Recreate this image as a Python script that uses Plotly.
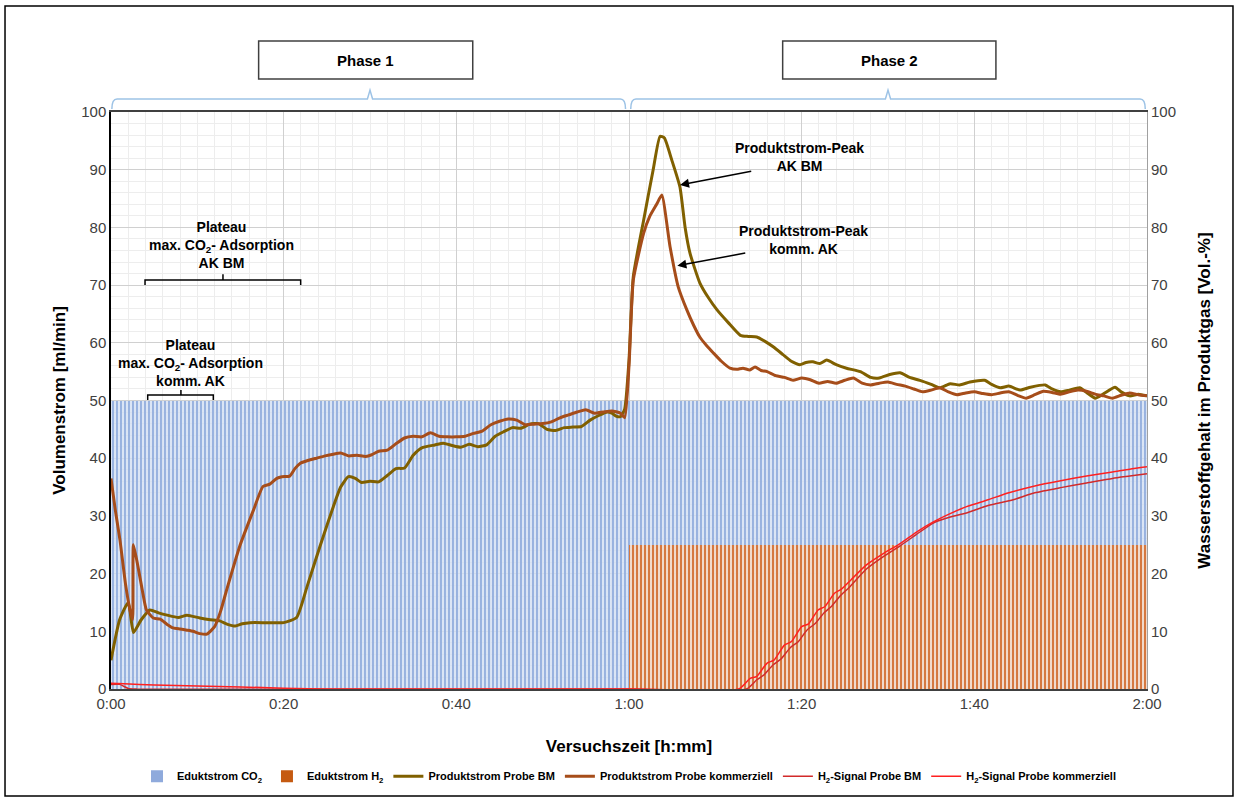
import plotly.graph_objects as go

# ---------------- data ----------------
x_tickvals = [0, 20, 40, 60, 80, 100, 120]
x_ticktext = ["0:00", "0:20", "0:40", "1:00", "1:20", "1:40", "2:00"]

# inlet flows (bars per phase)
edukt_t = [30, 90]
edukt_width = [60, 60]
edukt_co2 = [50, 50]
edukt_h2 = [0, 25]

# product stream sample BM (olive)
bm_t = [0, 1.0, 2.0, 2.6, 3.5, 4.5, 5.5, 6.5, 7.8, 8.8, 10.3, 11.5, 12.6, 13.5, 14.4, 15.2, 16.1, 18.0,
        20.0, 21.5, 22.7, 24.2, 25.75, 26.6, 27.5, 28.3, 29.0, 30.0, 31.0, 32.0, 33.0, 34.0, 35.0, 36.0,
        37.5, 38.5, 39.5, 40.5, 41.5, 42.5, 43.5, 44.5, 45.5, 46.5, 47.5, 48.5, 49.5, 50.5, 51.5, 52.5,
        53.5, 54.5, 55.5, 56.5, 57.5, 58.0, 58.5, 59.0, 59.5, 60.0, 60.5, 61.7, 62.8, 63.6, 64.1, 64.95,
        65.9, 66.5, 67.07, 68.2, 69.2, 70.2, 71.5, 72.9, 73.8, 74.8, 75.8, 76.7, 77.8, 78.8, 79.8, 80.5,
        81.3, 82.1, 82.9, 84.0, 85.2, 86.8, 88.0, 89.0, 90.2, 91.4, 92.5, 93.7, 95.0, 96.0, 97.2, 98.3,
        99.5, 101.2, 102.0, 103.0, 104.0, 105.3, 106.5, 108.2, 109.0, 110.0, 111.0, 112.2, 113.0, 114.0,
        115.0, 116.3, 117.0, 118.0, 119.0, 120.0]
bm_v = [5.0, 12.0, 15.0, 9.8, 12.0, 13.7, 13.2, 12.8, 12.4, 12.8, 12.3, 12.0, 11.8, 11.2, 10.9, 11.3, 11.5, 11.5,
        11.5, 12.4, 17.7, 24.7, 31.6, 35.0, 36.8, 36.5, 35.8, 36.0, 35.9, 37.0, 38.2, 38.3, 40.5, 41.8,
        42.3, 42.6, 42.2, 41.9, 42.4, 42.0, 42.3, 43.8, 44.6, 45.3, 45.2, 45.9, 46.0, 45.0, 44.8, 45.3,
        45.4, 45.5, 46.6, 47.4, 48.0, 47.8, 47.3, 47.2, 48.5, 57.0, 71.5, 81.3, 90.0, 95.8, 95.5, 91.7,
        87.0, 80.0, 75.5, 70.4, 67.8, 65.7, 63.5, 61.3, 61.1, 61.0, 60.2, 59.3, 58.0, 56.8, 56.2, 56.6,
        56.7, 56.4, 57.0, 56.2, 55.6, 55.0, 54.0, 53.9, 54.5, 54.8, 54.0, 53.5, 52.8, 52.2, 52.9, 52.7,
        53.2, 53.5, 52.8, 52.2, 52.5, 51.8, 52.3, 52.7, 52.0, 51.5, 51.8, 52.2, 51.4, 50.4,
        51.2, 52.3, 51.5, 50.8, 51.1, 50.8]

# product stream sample commercial (brown)
ko_t = [0, 0.5, 1.04, 1.7, 2.2, 2.5, 2.6, 3.2, 3.7, 4.1, 4.9, 5.7, 6.5, 7.2, 8.0, 8.8, 9.5, 10.3, 11.1, 12.0,
        12.7, 13.4, 14.9, 16.5, 17.6, 18.4, 19.2, 19.8, 20.7, 21.3, 21.9, 22.8, 23.8, 24.8, 25.75, 26.6, 27.5,
        28.5, 29.5, 30.2, 31, 32, 33, 34, 35, 36, 37, 38, 39, 40, 41, 42, 43, 44, 45, 46, 47, 48, 49, 50, 51,
        52, 53, 54, 55, 56, 57, 58, 59, 59.5, 60, 60.5, 61.7, 62.4, 63.2, 63.8, 64.75, 65.7, 66.7, 67.5, 68.2,
        69.0, 69.8, 70.7, 71.7, 72.5, 73.2, 74.0, 74.6, 75.3, 76, 77, 78, 79, 80, 81, 82, 83, 84, 85, 86, 87,
        88, 89, 90, 91, 92, 93, 94, 95, 96, 97, 98, 99, 100, 101, 102, 103, 104, 105, 106, 107, 108, 109, 110,
        111, 112, 113, 114, 115, 116, 117, 118, 119, 120]
ko_v = [36.5, 31.0, 25.8, 18.0, 13.7, 12.0, 25.0, 20.6, 16.5, 13.7, 12.3, 12.1, 11.2, 10.6, 10.4, 10.2, 10.0, 9.6,
        9.5, 10.8, 13.5, 17.2, 24.7, 31.0, 35.1, 35.5, 36.5, 36.8, 36.9, 38.2, 39.1, 39.6, 40.0, 40.4, 40.7,
        40.9, 40.4, 40.5, 40.3, 40.6, 41.2, 41.4, 42.5, 43.5, 43.8, 43.7, 44.4, 43.8, 43.7, 43.7, 43.8, 44.3,
        44.7, 45.8, 46.4, 46.8, 46.6, 45.8, 45.9, 46.0, 46.3, 47.0, 47.5, 48.0, 48.4, 47.8, 48.0, 48.2, 47.8,
        47.0, 56.0, 70.9, 79.0, 81.9, 84.0, 85.6, 76.7, 69.7, 65.7, 63.0, 61.0, 59.5, 58.2, 56.8, 55.6, 55.4,
        55.6, 55.3, 55.8, 55.2, 55.0, 54.3, 54.0, 53.5, 53.9, 53.6, 53.0, 53.3, 53.0, 53.5, 53.9, 53.0, 52.7,
        53.0, 53.2, 52.8, 52.5, 52.0, 51.5, 51.8, 52.2, 51.5, 51.0, 51.3, 51.5, 51.2, 51.0, 51.3, 51.5, 50.9,
        50.4, 51.0, 51.6, 51.4, 51.1, 51.5, 51.8, 51.6, 51.1, 50.8, 50.4, 50.9, 51.3, 51.0, 50.8]

# H2 signal sample BM
h2bm_t = [0, 1.0, 2.0, 3.0, 60.0, 73.6, 74.8, 75.6, 76.7, 77.6, 78.7, 79.6, 80.6, 81.6, 82.6, 83.5, 84.5,
          85.5, 87.5, 89.5, 91.4, 93.3, 95.3, 97.2, 99.1, 101.6, 104.5, 107.0, 110.0, 113.0, 116.0, 118.0, 120.0]
h2bm_v = [0.8, 0.8, 0.1, 0.0, 0.0, 0.0, 1.6, 2.4, 4.2, 5.2, 7.2, 8.2, 10.2, 11.4, 13.2, 14.4, 16.2,
          17.6, 20.8, 23.0, 24.8, 26.8, 28.8, 29.8, 30.5, 31.8, 32.8, 34.0, 34.9, 35.7, 36.5, 36.9, 37.3]

# H2 signal sample commercial
h2ko_t = [0, 1.5, 5.0, 10.0, 15.0, 20.0, 25.0, 60.0, 72.7, 74.0, 74.8, 76.0, 76.8, 78.0, 78.8, 80.0, 80.8,
          81.9, 82.7, 83.8, 84.6, 85.7, 87.5, 89.5, 91.4, 93.3, 95.3, 97.2, 99.1, 101.6, 104.0, 107.0, 110.0,
          113.0, 116.0, 118.0, 120.0]
h2ko_v = [1.0, 0.9, 0.7, 0.5, 0.35, 0.15, 0.0, 0.0, 0.0, 1.8, 2.2, 4.5, 5.0, 7.6, 8.2, 10.8, 11.3,
          13.7, 14.3, 16.6, 17.3, 18.9, 21.5, 23.5, 25.2, 27.2, 29.0, 30.4, 31.6, 32.8, 34.0, 35.2, 36.1,
          36.9, 37.6, 38.1, 38.5]

FONT = "Arial, Liberation Sans, sans-serif"
CO2_NAME = "<b>Eduktstrom CO<sub>2</sub></b>"
H2_NAME = "<b>Eduktstrom H<sub>2</sub></b>"

fig = go.Figure()

fig.add_trace(go.Bar(
    x=edukt_t, y=edukt_co2, width=edukt_width, name=CO2_NAME, showlegend=False, legendgroup="co2",
    marker=dict(color="rgba(200,214,240,0.75)", line=dict(width=0),
                pattern=dict(shape="|", fgcolor="rgba(143,170,220,0.95)", bgcolor="rgba(210,222,243,0.8)",
                             size=4, solidity=0.45, fillmode="replace")),
))
fig.add_trace(go.Bar(
    x=edukt_t, y=edukt_h2, width=edukt_width, name=H2_NAME, showlegend=False, legendgroup="h2",
    marker=dict(color="rgba(240,200,175,0.85)", line=dict(width=0),
                pattern=dict(shape="|", fgcolor="rgba(210,105,40,0.95)", bgcolor="rgba(245,216,196,0.85)",
                             size=4, solidity=0.45, fillmode="replace")),
))
# legend keys (solid swatches like the reference)
fig.add_trace(go.Bar(x=[None], y=[None], name=CO2_NAME, legendgroup="co2",
                     marker=dict(color="#8FAADC", line=dict(width=0))))
fig.add_trace(go.Bar(x=[None], y=[None], name=H2_NAME, legendgroup="h2",
                     marker=dict(color="#C55A11", line=dict(width=0))))

fig.add_trace(go.Scatter(x=bm_t, y=bm_v, mode="lines", name="<b>Produktstrom Probe BM</b>",
                         line=dict(color="#806000", width=3, shape="spline", smoothing=0.5)))
fig.add_trace(go.Scatter(x=ko_t, y=ko_v, mode="lines", name="<b>Produktstrom Probe kommerziell</b>",
                         line=dict(color="#A64D1A", width=3, shape="spline", smoothing=0.5)))
fig.add_trace(go.Scatter(x=h2bm_t, y=h2bm_v, mode="lines", name="<b>H<sub>2</sub>-Signal Probe BM</b>", yaxis="y2",
                         line=dict(color="#D22A2A", width=1.5, shape="spline", smoothing=0.6)))
fig.add_trace(go.Scatter(x=h2ko_t, y=h2ko_v, mode="lines", name="<b>H<sub>2</sub>-Signal Probe kommerziell</b>",
                         yaxis="y2", line=dict(color="#FF2020", width=1.5, shape="spline", smoothing=0.6)))

shapes = []
# outer frame
shapes.append(dict(type="rect", xref="paper", yref="paper", x0=-0.1023, x1=1.083, y0=-0.1854, y1=1.1837,
                   line=dict(color="black", width=1.5), layer="above"))
# phase boxes
for x0, x1 in [(17.1, 41.9), (77.8, 102.5)]:
    shapes.append(dict(type="rect", xref="x", yref="paper", x0=x0, x1=x1, y0=1.057, y1=1.123,
                       line=dict(color="#404040", width=1.5), fillcolor="white"))
# phase braces (light blue)
for a, c, b in [(0.1, 30.0, 59.6), (60.2, 90.0, 119.8)]:
    path = (f"M {a},1.005 Q {a},1.0225 {a+0.6},1.0225 L {c-0.3},1.0225 L {c},1.038 L {c+0.3},1.0225 "
            f"L {b-0.6},1.0225 Q {b},1.0225 {b},1.005")
    shapes.append(dict(type="path", xref="x", yref="paper", path=path,
                       line=dict(color="#9DC3E6", width=1.5)))
# plateau brackets
for a, c, b, yl, ye, yt in [(3.94, 12.97, 21.97, 70.9, 70.0, 71.9), (4.25, 8.1, 11.85, 50.95, 50.1, 51.8)]:
    path = f"M {a},{ye} L {a},{yl} L {b},{yl} L {b},{ye} M {c},{yl} L {c},{yt}"
    shapes.append(dict(type="path", xref="x", yref="y", path=path,
                       line=dict(color="black", width=1.5), layer="above"))

annotations = [
    dict(x=29.5, y=1.09, xref="x", yref="paper", text="<b>Phase 1</b>", showarrow=False,
         xanchor="center", yanchor="middle", font=dict(size=15, color="black", family=FONT)),
    dict(x=90.15, y=1.09, xref="x", yref="paper", text="<b>Phase 2</b>", showarrow=False,
         xanchor="center", yanchor="middle", font=dict(size=15, color="black", family=FONT)),
    dict(x=12.8, y=77.0, xref="x", yref="y", text="<b>Plateau<br>max. CO<sub>2</sub>- Adsorption<br>AK BM</b>",
         showarrow=False, font=dict(size=14, color="black", family=FONT), yanchor="middle"),
    dict(x=9.25, y=56.5, xref="x", yref="y", text="<b>Plateau<br>max. CO<sub>2</sub>- Adsorption<br>komm. AK</b>",
         showarrow=False, font=dict(size=14, color="black", family=FONT), yanchor="middle"),
    dict(x=79.7, y=92.2, xref="x", yref="y", text="<b>Produktstrom-Peak<br>AK BM</b>",
         showarrow=False, font=dict(size=14, color="black", family=FONT)),
    dict(x=80.2, y=77.8, xref="x", yref="y", text="<b>Produktstrom-Peak<br>komm. AK</b>",
         showarrow=False, font=dict(size=14, color="black", family=FONT)),
    dict(x=65.91, y=87.35, ax=74.33, ay=89.77, xref="x", yref="y", axref="x", ayref="y", text="",
         showarrow=True, arrowhead=2, arrowsize=1.2, arrowwidth=1.5, arrowcolor="black"),
    dict(x=65.6, y=73.36, ax=73.64, ay=75.6, xref="x", yref="y", axref="x", ayref="y", text="",
         showarrow=True, arrowhead=2, arrowsize=1.2, arrowwidth=1.5, arrowcolor="black"),
]

fig.update_layout(
    width=1235, height=798,
    margin=dict(l=111, r=88, t=112, b=109, autoexpand=False),
    paper_bgcolor="white", plot_bgcolor="white",
    font=dict(family=FONT, color="#404040"),
    barmode="overlay", bargap=0,
    showlegend=True,
    legend=dict(orientation="h", x=0.5, xanchor="center", y=-0.151, yanchor="middle",
                font=dict(size=11, color="black", family=FONT), itemwidth=30,
                bgcolor="rgba(0,0,0,0)", traceorder="normal"),
    xaxis=dict(range=[0, 120], tickmode="array", tickvals=x_tickvals, ticktext=x_ticktext,
               tickfont=dict(size=15, color="#404040"), showgrid=True, gridcolor="#D0D0D0", gridwidth=1,
               minor=dict(dtick=2, tick0=0, showgrid=True, gridcolor="#EDEDED", gridwidth=1),
               showline=True, linecolor="#404040", linewidth=1.5, mirror=True, zeroline=False, ticks="",
               title=dict(text="<b>Versuchszeit [h:mm]</b>", font=dict(size=17, color="black"), standoff=29)),
    yaxis=dict(range=[0, 100], dtick=10, tickfont=dict(size=15, color="#404040"),
               showgrid=True, gridcolor="#D0D0D0", gridwidth=1,
               minor=dict(dtick=2, tick0=0, showgrid=True, gridcolor="#EDEDED", gridwidth=1),
               showline=True, linecolor="black", linewidth=1.5, zeroline=False, ticks="",
               title=dict(text="<b>Volumenstrom [ml/min]</b>", font=dict(size=17, color="black"), standoff=11)),
    yaxis2=dict(range=[0, 100], dtick=10, overlaying="y", side="right", showgrid=False, zeroline=False,
                tickfont=dict(size=15, color="#404040"), showline=True, linecolor="#A0A0A0", linewidth=1,
                ticks="",
                title=dict(text="<b>Wasserstoffgehalt im Produktgas [Vol.-%]</b>", font=dict(size=17, color="black"),
                           standoff=23)),
    shapes=shapes,
    annotations=annotations,
)

fig.write_html("out.html", config={"displayModeBar": False},
               post_script="document.body.style.margin='0';")
